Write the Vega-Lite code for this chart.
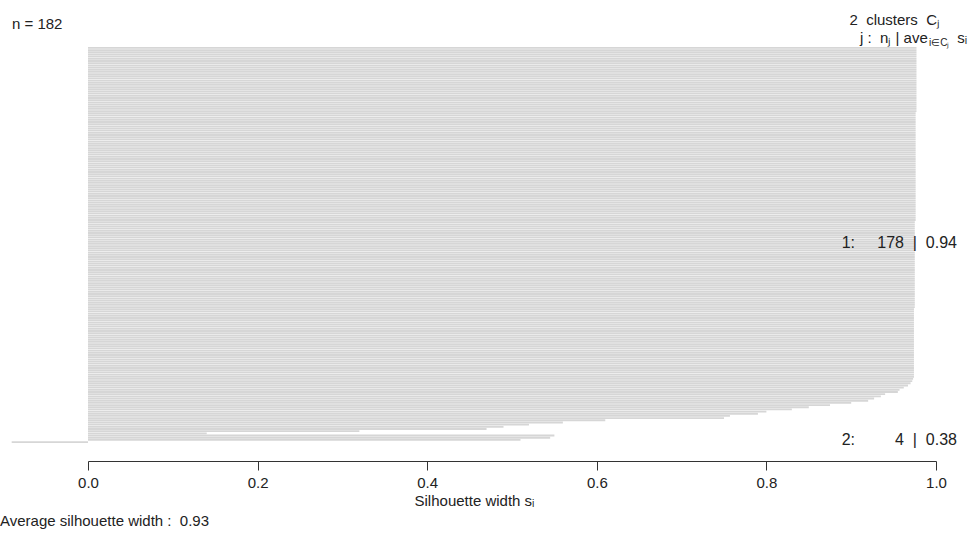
{
"$schema": "https://vega.github.io/schema/vega-lite/v6.json",
"width": 848, "height": 396, "autosize": "none",
"padding": {"left": 88, "top": 47, "right": 37, "bottom": 115},
"config": {"view": {"stroke": null}, "font": "Liberation Sans", "text": {"font": "Liberation Sans", "fontSize": 15, "color": "#222"}},
"datasets": {"sil": [
{"id":1,"cluster":1,"width":0.977},{"id":2,"cluster":1,"width":0.977},{"id":3,"cluster":1,"width":0.977},{"id":4,"cluster":1,"width":0.977},{"id":5,"cluster":1,"width":0.977},{"id":6,"cluster":1,"width":0.977},{"id":7,"cluster":1,"width":0.977},{"id":8,"cluster":1,"width":0.977},{"id":9,"cluster":1,"width":0.977},{"id":10,"cluster":1,"width":0.977},
{"id":11,"cluster":1,"width":0.977},{"id":12,"cluster":1,"width":0.977},{"id":13,"cluster":1,"width":0.977},{"id":14,"cluster":1,"width":0.977},{"id":15,"cluster":1,"width":0.977},{"id":16,"cluster":1,"width":0.977},{"id":17,"cluster":1,"width":0.977},{"id":18,"cluster":1,"width":0.977},{"id":19,"cluster":1,"width":0.977},{"id":20,"cluster":1,"width":0.977},
{"id":21,"cluster":1,"width":0.977},{"id":22,"cluster":1,"width":0.977},{"id":23,"cluster":1,"width":0.977},{"id":24,"cluster":1,"width":0.977},{"id":25,"cluster":1,"width":0.977},{"id":26,"cluster":1,"width":0.977},{"id":27,"cluster":1,"width":0.977},{"id":28,"cluster":1,"width":0.977},{"id":29,"cluster":1,"width":0.977},{"id":30,"cluster":1,"width":0.977},
{"id":31,"cluster":1,"width":0.976},{"id":32,"cluster":1,"width":0.976},{"id":33,"cluster":1,"width":0.976},{"id":34,"cluster":1,"width":0.976},{"id":35,"cluster":1,"width":0.976},{"id":36,"cluster":1,"width":0.976},{"id":37,"cluster":1,"width":0.976},{"id":38,"cluster":1,"width":0.976},{"id":39,"cluster":1,"width":0.976},{"id":40,"cluster":1,"width":0.976},
{"id":41,"cluster":1,"width":0.976},{"id":42,"cluster":1,"width":0.976},{"id":43,"cluster":1,"width":0.976},{"id":44,"cluster":1,"width":0.976},{"id":45,"cluster":1,"width":0.976},{"id":46,"cluster":1,"width":0.976},{"id":47,"cluster":1,"width":0.976},{"id":48,"cluster":1,"width":0.976},{"id":49,"cluster":1,"width":0.976},{"id":50,"cluster":1,"width":0.976},
{"id":51,"cluster":1,"width":0.976},{"id":52,"cluster":1,"width":0.976},{"id":53,"cluster":1,"width":0.976},{"id":54,"cluster":1,"width":0.976},{"id":55,"cluster":1,"width":0.976},{"id":56,"cluster":1,"width":0.976},{"id":57,"cluster":1,"width":0.976},{"id":58,"cluster":1,"width":0.976},{"id":59,"cluster":1,"width":0.976},{"id":60,"cluster":1,"width":0.976},
{"id":61,"cluster":1,"width":0.976},{"id":62,"cluster":1,"width":0.976},{"id":63,"cluster":1,"width":0.976},{"id":64,"cluster":1,"width":0.976},{"id":65,"cluster":1,"width":0.976},{"id":66,"cluster":1,"width":0.976},{"id":67,"cluster":1,"width":0.976},{"id":68,"cluster":1,"width":0.976},{"id":69,"cluster":1,"width":0.976},{"id":70,"cluster":1,"width":0.976},
{"id":71,"cluster":1,"width":0.976},{"id":72,"cluster":1,"width":0.976},{"id":73,"cluster":1,"width":0.976},{"id":74,"cluster":1,"width":0.976},{"id":75,"cluster":1,"width":0.976},{"id":76,"cluster":1,"width":0.976},{"id":77,"cluster":1,"width":0.976},{"id":78,"cluster":1,"width":0.976},{"id":79,"cluster":1,"width":0.976},{"id":80,"cluster":1,"width":0.976},
{"id":81,"cluster":1,"width":0.975},{"id":82,"cluster":1,"width":0.975},{"id":83,"cluster":1,"width":0.975},{"id":84,"cluster":1,"width":0.975},{"id":85,"cluster":1,"width":0.975},{"id":86,"cluster":1,"width":0.975},{"id":87,"cluster":1,"width":0.975},{"id":88,"cluster":1,"width":0.975},{"id":89,"cluster":1,"width":0.975},{"id":90,"cluster":1,"width":0.975},
{"id":91,"cluster":1,"width":0.975},{"id":92,"cluster":1,"width":0.975},{"id":93,"cluster":1,"width":0.975},{"id":94,"cluster":1,"width":0.975},{"id":95,"cluster":1,"width":0.975},{"id":96,"cluster":1,"width":0.975},{"id":97,"cluster":1,"width":0.975},{"id":98,"cluster":1,"width":0.975},{"id":99,"cluster":1,"width":0.975},{"id":100,"cluster":1,"width":0.975},
{"id":101,"cluster":1,"width":0.975},{"id":102,"cluster":1,"width":0.975},{"id":103,"cluster":1,"width":0.975},{"id":104,"cluster":1,"width":0.975},{"id":105,"cluster":1,"width":0.975},{"id":106,"cluster":1,"width":0.975},{"id":107,"cluster":1,"width":0.975},{"id":108,"cluster":1,"width":0.975},{"id":109,"cluster":1,"width":0.975},{"id":110,"cluster":1,"width":0.975},
{"id":111,"cluster":1,"width":0.975},{"id":112,"cluster":1,"width":0.975},{"id":113,"cluster":1,"width":0.975},{"id":114,"cluster":1,"width":0.975},{"id":115,"cluster":1,"width":0.975},{"id":116,"cluster":1,"width":0.975},{"id":117,"cluster":1,"width":0.975},{"id":118,"cluster":1,"width":0.975},{"id":119,"cluster":1,"width":0.975},{"id":120,"cluster":1,"width":0.975},
{"id":121,"cluster":1,"width":0.974},{"id":122,"cluster":1,"width":0.974},{"id":123,"cluster":1,"width":0.974},{"id":124,"cluster":1,"width":0.974},{"id":125,"cluster":1,"width":0.974},{"id":126,"cluster":1,"width":0.974},{"id":127,"cluster":1,"width":0.974},{"id":128,"cluster":1,"width":0.974},{"id":129,"cluster":1,"width":0.974},{"id":130,"cluster":1,"width":0.974},
{"id":131,"cluster":1,"width":0.974},{"id":132,"cluster":1,"width":0.974},{"id":133,"cluster":1,"width":0.974},{"id":134,"cluster":1,"width":0.974},{"id":135,"cluster":1,"width":0.974},{"id":136,"cluster":1,"width":0.974},{"id":137,"cluster":1,"width":0.974},{"id":138,"cluster":1,"width":0.974},{"id":139,"cluster":1,"width":0.974},{"id":140,"cluster":1,"width":0.974},
{"id":141,"cluster":1,"width":0.974},{"id":142,"cluster":1,"width":0.974},{"id":143,"cluster":1,"width":0.974},{"id":144,"cluster":1,"width":0.974},{"id":145,"cluster":1,"width":0.974},{"id":146,"cluster":1,"width":0.974},{"id":147,"cluster":1,"width":0.974},{"id":148,"cluster":1,"width":0.974},{"id":149,"cluster":1,"width":0.974},{"id":150,"cluster":1,"width":0.974},
{"id":151,"cluster":1,"width":0.974},{"id":152,"cluster":1,"width":0.974},{"id":153,"cluster":1,"width":0.973},{"id":154,"cluster":1,"width":0.972},{"id":155,"cluster":1,"width":0.970},{"id":156,"cluster":1,"width":0.967},{"id":157,"cluster":1,"width":0.962},{"id":158,"cluster":1,"width":0.957},{"id":159,"cluster":1,"width":0.955},{"id":160,"cluster":1,"width":0.940},
{"id":161,"cluster":1,"width":0.935},{"id":162,"cluster":1,"width":0.927},{"id":163,"cluster":1,"width":0.920},{"id":164,"cluster":1,"width":0.900},{"id":165,"cluster":1,"width":0.875},{"id":166,"cluster":1,"width":0.850},{"id":167,"cluster":1,"width":0.830},{"id":168,"cluster":1,"width":0.800},{"id":169,"cluster":1,"width":0.790},{"id":170,"cluster":1,"width":0.757},
{"id":171,"cluster":1,"width":0.750},{"id":172,"cluster":1,"width":0.610},{"id":173,"cluster":1,"width":0.560},{"id":174,"cluster":1,"width":0.520},{"id":175,"cluster":1,"width":0.490},{"id":176,"cluster":1,"width":0.470},{"id":177,"cluster":1,"width":0.320},{"id":178,"cluster":1,"width":0.140},
{"id":179,"cluster":2,"width":0.550},{"id":180,"cluster":2,"width":0.545},{"id":181,"cluster":2,"width":0.510},{"id":182,"cluster":2,"width":-0.090}
]},
"layer": [
{"data": {"name": "sil"},
 "mark": {"type": "bar", "fill": "#d6d6d6"},
 "encoding": {
  "y": {"field": "id", "type": "ordinal", "axis": null, "scale": {"paddingInner": 0.15, "paddingOuter": 0}},
  "x": {"field": "width", "type": "quantitative", "scale": {"domain": [0, 1], "nice": false},
   "axis": {"title": "Silhouette width sᵢ", "values": [0, 0.2, 0.4, 0.6, 0.8, 1], "format": ".1f", "offset": 18, "grid": false,
    "domainColor": "#333", "tickColor": "#333", "tickSize": 9, "labelFontSize": 15, "labelColor": "#222", "labelPadding": 5, "labelFlush": false,
    "labelFont": "Liberation Sans", "titleFont": "Liberation Sans", "titleFontSize": 15, "titleFontWeight": "normal", "titleColor": "#222",
    "titleX": 386, "titleY": 44, "titleBaseline": "alphabetic", "titleAlign": "center", "titleAnchor": null}}}},
{"data": {"values": [{"t": "n = 182"}]}, "mark": {"type": "text", "align": "left", "baseline": "alphabetic", "dx": -76, "dy": -19},
 "encoding": {"text": {"field": "t"}, "x": {"datum": 0, "type": "quantitative"}, "y": {"datum": 1, "type": "ordinal"}}},
{"data": {"values": [{"t": "2\u00a0\u00a0clusters\u00a0\u00a0Cⱼ"}]}, "mark": {"type": "text", "align": "right", "baseline": "alphabetic", "dx": 4, "dy": -23},
 "encoding": {"text": {"field": "t"}, "x": {"datum": 1, "type": "quantitative"}, "y": {"datum": 1, "type": "ordinal"}}},
{"data": {"values": [{"t": "j :\u00a0\u00a0nⱼ\u00a0| ave"}]}, "mark": {"type": "text", "align": "left", "baseline": "alphabetic", "dx": -76, "dy": -5},
 "encoding": {"text": {"field": "t"}, "x": {"datum": 1, "type": "quantitative"}, "y": {"datum": 1, "type": "ordinal"}}},
{"data": {"values": [{"t": "i∈Cⱼ"}]}, "mark": {"type": "text", "align": "left", "baseline": "alphabetic", "fontSize": 10, "dx": -7, "dy": -2},
 "encoding": {"text": {"field": "t"}, "x": {"datum": 1, "type": "quantitative"}, "y": {"datum": 1, "type": "ordinal"}}},
{"data": {"values": [{"t": "sᵢ"}]}, "mark": {"type": "text", "align": "right", "baseline": "alphabetic", "dx": 31, "dy": -5},
 "encoding": {"text": {"field": "t"}, "x": {"datum": 1, "type": "quantitative"}, "y": {"datum": 1, "type": "ordinal"}}},
{"data": {"values": [{"t": "1:\u00a0\u00a0\u00a0\u00a0\u00a0178\u00a0\u00a0|\u00a0\u00a00.94"}]}, "mark": {"type": "text", "align": "right", "baseline": "middle", "fontSize": 16, "dx": 21, "dy": 1},
 "encoding": {"text": {"field": "t"}, "x": {"datum": 1, "type": "quantitative"}, "y": {"datum": 90, "type": "ordinal"}}},
{"data": {"values": [{"t": "2:\u00a0\u00a0\u00a0\u00a0\u00a0\u00a0\u00a0\u00a0\u00a04\u00a0\u00a0|\u00a0\u00a00.38"}]}, "mark": {"type": "text", "align": "right", "baseline": "middle", "fontSize": 16, "dx": 21, "dy": 0},
 "encoding": {"text": {"field": "t"}, "x": {"datum": 1, "type": "quantitative"}, "y": {"datum": 181, "type": "ordinal"}}},
{"data": {"values": [{"t": "Average silhouette width :\u00a0\u00a00.93"}]}, "mark": {"type": "text", "align": "left", "baseline": "alphabetic", "dx": -88, "dy": 84},
 "encoding": {"text": {"field": "t"}, "x": {"datum": 0, "type": "quantitative"}, "y": {"datum": 182, "type": "ordinal"}}}
]
}
